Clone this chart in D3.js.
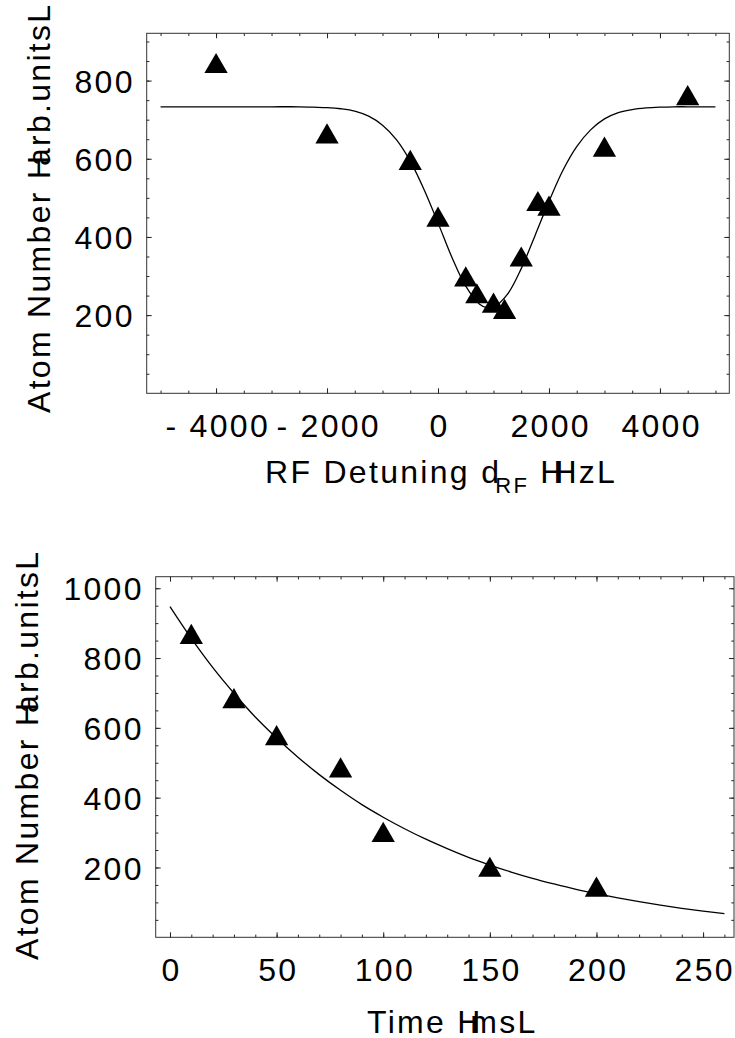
<!DOCTYPE html>
<html>
<head>
<meta charset="utf-8">
<script src="https://cdn.jsdelivr.net/npm/d3@7"></script>
<style>
  body { margin: 0; background: #fff; }
  svg text { font-family: "Liberation Sans", Arial, Helvetica, sans-serif; fill: #000; }
  .tick text, .title { font-size: 32px; letter-spacing: 2.3px; }
</style>
</head>
<body>
<div id="chart"></div>
<script>
// Top panel - atom number vs RF detuning
const detuningHz = [-4000, -2000, -500, 0, 500, 700, 1000, 1200, 1500, 1800, 2000, 3000, 4500];
const detuningAtoms = [845, 665, 597, 452, 299, 256, 232, 216, 350, 492, 480, 631, 763];
// fitted curve
const detuningFitHz = [-5000, -4500, -4000, -3500, -3000, -2500, -2250, -2000, -1750, -1500, -1250, -1000,
    -750, -500, -250, 0, 250, 500, 750, 900, 1000, 1250, 1500, 1750, 2000, 2250, 2500, 2750, 3000,
    3250, 3500, 3750, 4000, 4250, 4500, 5000];
const detuningFitAtoms = [733, 733, 733, 733, 733, 733, 732, 731, 728, 722, 709, 686,
    649, 594, 521, 436, 348, 274, 228, 218, 220, 253, 319, 404, 491, 570, 631, 674, 702,
    718, 726, 730, 732, 733, 733, 733];
const detuningTickLabels = [-4000, -2000, 0, 2000, 4000];
const detuningAtomTickLabels = [200, 400, 600, 800];

// Bottom panel - atom number vs time
const timeMs = [10, 30, 50, 80, 100, 150, 200];
const timeAtoms = [869, 685, 579, 487, 302, 202, 145];
const timeFitMs = [0, 10, 20, 30, 40, 50, 60, 70, 80, 90, 100, 110, 120, 130, 140, 150, 160, 170,
    180, 190, 200, 210, 220, 230, 240, 250, 260];
const timeFitAtoms = [947, 856, 773, 699, 631, 571, 516, 466, 421, 380, 344, 311, 281, 254, 229, 207, 187, 169,
    153, 138, 125, 113, 102, 92, 83, 75, 68];
const timeTickLabels = [0, 50, 100, 150, 200, 250];
const timeAtomTickLabels = [200, 400, 600, 800, 1000];

const chartSettings = {
    width: 735,
    height: 1038,
    majorTick: 5,
    minorTick: 2.7,
    markerArea: 235,
};

const svg = d3.select("#chart").append("svg")
    .attr("width", chartSettings.width)
    .attr("height", chartSettings.height)
    .style("display", "block");

const minusLabel = (d) => (d < 0 ? "- " + Math.abs(d) : String(d));

function frameTicks(g, axis, transform, values, size, format, padding) {
    const sel = g.append("g")
        .attr("transform", transform)
        .attr("color", "#222")
        .call(axis
            .tickValues(values)
            .tickSize(-size)
            .tickPadding(padding || 0)
            .tickFormat(format || (() => "")));
    sel.select(".domain").remove();
    return sel;
}

function drawPanel(p) {
    const { left, right, top, bottom } = p.frame;
    const x = d3.scaleLinear().domain(p.xDomain).range([left, right]);
    const y = d3.scaleLinear().domain(p.yDomain).range([bottom, top]);
    const g = svg.append("g");
    const { majorTick, minorTick } = chartSettings;

    // ticks on all four sides of the frame, pointing inward
    frameTicks(g, d3.axisBottom(x), `translate(0,${bottom})`, p.xMinor, minorTick);
    frameTicks(g, d3.axisTop(x), `translate(0,${top})`, p.xMinor, minorTick);
    frameTicks(g, d3.axisLeft(y), `translate(${left},0)`, p.yMinor, minorTick);
    frameTicks(g, d3.axisRight(y), `translate(${right},0)`, p.yMinor, minorTick);
    frameTicks(g, d3.axisTop(x), `translate(0,${top})`, p.xTicks, majorTick);
    frameTicks(g, d3.axisRight(y), `translate(${right},0)`, p.yTicks, majorTick);

    frameTicks(g, d3.axisBottom(x), `translate(0,${bottom})`, p.xTicks, majorTick, p.xFormat, 21.3)
        .selectAll("text").attr("dx", "1.15px");
    frameTicks(g, d3.axisLeft(y), `translate(${left},0)`, p.yTicks, majorTick, String, 11.9)
        .selectAll("text").attr("dy", "0.36em");

    g.append("rect")
        .attr("x", left).attr("y", top)
        .attr("width", right - left).attr("height", bottom - top)
        .attr("fill", "none")
        .attr("stroke", "#333")
        .attr("stroke-width", 1);

    // fit curve
    g.append("path")
        .datum(d3.zip(p.fitX, p.fitY))
        .attr("fill", "none")
        .attr("stroke", "#000")
        .attr("stroke-width", 1.3)
        .attr("d", d3.line()
            .x((d) => x(d[0]))
            .y((d) => y(d[1]))
            .curve(d3.curveCatmullRom));

    // triangle markers, box centred on the point
    const tri = d3.symbol(d3.symbolTriangle, chartSettings.markerArea);
    const h = Math.sqrt(chartSettings.markerArea * 4 / Math.sqrt(3)) * Math.sqrt(3) / 2;
    g.append("g").selectAll("path")
        .data(d3.zip(p.dataX, p.dataY))
        .join("path")
        .attr("d", tri)
        .attr("fill", "#000")
        .attr("transform", (d) => `translate(${x(d[0])},${y(d[1]) + h / 6})`);

    // axis titles
    const yTitle = g.append("text")
        .classed("title", true)
        .attr("transform", `translate(${p.yTitlePos[0]},${p.yTitlePos[1]}) rotate(-90)`);
    yTitle.append("tspan").text("Atom Number H");
    yTitle.append("tspan").attr("dx", -12.4).text("arb.unitsL");

    const xTitle = g.append("text")
        .classed("title", true)
        .attr("x", p.xTitlePos[0])
        .attr("y", p.xTitlePos[1]);
    p.xTitle(xTitle);
}

drawPanel({
    frame: { left: 146.7, right: 729.3, top: 33.3, bottom: 393.3 },
    xDomain: [-5250, 5250],
    yDomain: [0, 921],
    xTicks: detuningTickLabels,
    xMinor: d3.range(-5000, 5001, 500),
    yTicks: detuningAtomTickLabels,
    yMinor: d3.range(50, 901, 50),
    xFormat: minusLabel,
    dataX: detuningHz,
    dataY: detuningAtoms,
    fitX: detuningFitHz,
    fitY: detuningFitAtoms,
    yTitlePos: [49.5, 413],
    xTitlePos: [265, 483.3],
    xTitle: (t) => {
        t.append("tspan").text("RF Detuning d");
        t.append("tspan").attr("dx", -6).attr("dy", 10).style("font-size", "22px").text("RF");
        t.append("tspan").attr("dy", -10).text(" H");
        t.append("tspan").attr("dx", -12.4).text("HzL");
    },
});

drawPanel({
    frame: { left: 155.7, right: 734, top: 576.7, bottom: 937.3 },
    xDomain: [-6.7, 264.5],
    yDomain: [0, 1033],
    xTicks: timeTickLabels,
    xMinor: d3.range(0, 261, 10),
    yTicks: timeAtomTickLabels,
    yMinor: d3.range(50, 1001, 50),
    xFormat: String,
    dataX: timeMs,
    dataY: timeAtoms,
    fitX: timeFitMs,
    fitY: timeFitAtoms,
    yTitlePos: [38.3, 960],
    xTitlePos: [367, 1033.3],
    xTitle: (t) => {
        t.append("tspan").text("Time H");
        t.append("tspan").attr("dx", -12.4).text("msL");
    },
});
</script>
</body>
</html>
